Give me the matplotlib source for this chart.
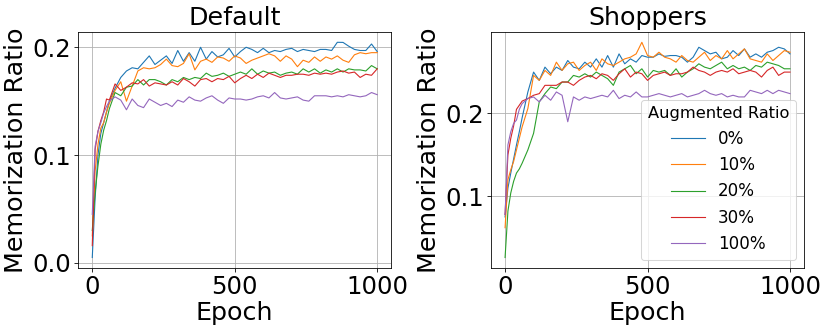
import numpy as np
import matplotlib
matplotlib.use("Agg")
import matplotlib.pyplot as plt
from matplotlib.ticker import MultipleLocator

# epochs (denser at the start of training)
epochs = [0, 10, 20, 30, 40, 50, 60] + list(range(80, 1001, 20))

ratio_labels = ["0%", "10%", "20%", "30%", "100%"]

# Default dataset
default_0 = [0.005, 0.060, 0.100, 0.120, 0.130, 0.140, 0.150, 0.162, 0.172,
             0.178, 0.181, 0.180, 0.186, 0.192, 0.184, 0.188, 0.192, 0.185, 0.197,
             0.187, 0.195, 0.187, 0.200, 0.189, 0.196, 0.191, 0.193, 0.199, 0.191,
             0.196, 0.200, 0.198, 0.195, 0.199, 0.195, 0.197, 0.196, 0.198, 0.199,
             0.196, 0.198, 0.197, 0.196, 0.198, 0.198, 0.197, 0.2046, 0.2045, 0.201,
             0.198, 0.197, 0.197, 0.203, 0.196]
default_10 = [0.025, 0.085, 0.110, 0.125, 0.130, 0.140, 0.148, 0.160, 0.168,
              0.150, 0.164, 0.178, 0.181, 0.180, 0.181, 0.184, 0.189, 0.183, 0.182,
              0.185, 0.194, 0.179, 0.187, 0.189, 0.186, 0.191, 0.190, 0.187, 0.192,
              0.190, 0.185, 0.188, 0.190, 0.192, 0.194, 0.192, 0.187, 0.192, 0.189,
              0.182, 0.188, 0.186, 0.191, 0.187, 0.191, 0.189, 0.192, 0.188, 0.186,
              0.193, 0.195, 0.194, 0.195, 0.195]
default_20 = [0.030, 0.065, 0.090, 0.110, 0.123, 0.132, 0.143, 0.158, 0.155,
              0.163, 0.164, 0.170, 0.165, 0.170, 0.170, 0.168, 0.165, 0.170, 0.168,
              0.172, 0.170, 0.172, 0.171, 0.176, 0.173, 0.174, 0.176, 0.173, 0.175,
              0.177, 0.175, 0.180, 0.175, 0.178, 0.176, 0.177, 0.174, 0.176, 0.177,
              0.175, 0.180, 0.177, 0.180, 0.176, 0.179, 0.177, 0.180, 0.177, 0.180,
              0.179, 0.179, 0.178, 0.183, 0.180]
default_30 = [0.016, 0.105, 0.122, 0.132, 0.140, 0.152, 0.151, 0.166, 0.160,
              0.163, 0.167, 0.166, 0.170, 0.164, 0.167, 0.166, 0.165, 0.168, 0.165,
              0.171, 0.168, 0.164, 0.170, 0.171, 0.168, 0.171, 0.170, 0.173, 0.167,
              0.171, 0.174, 0.171, 0.175, 0.172, 0.176, 0.174, 0.172, 0.174, 0.174,
              0.175, 0.175, 0.174, 0.176, 0.175, 0.176, 0.175, 0.177, 0.178, 0.176,
              0.177, 0.172, 0.175, 0.174, 0.180]
default_100 = [0.045, 0.108, 0.122, 0.130, 0.139, 0.145, 0.150, 0.154, 0.151,
               0.142, 0.152, 0.146, 0.144, 0.152, 0.149, 0.146, 0.148, 0.145, 0.151,
               0.149, 0.154, 0.151, 0.150, 0.153, 0.155, 0.151, 0.148, 0.153, 0.152,
               0.152, 0.151, 0.152, 0.154, 0.155, 0.153, 0.158, 0.153, 0.152, 0.153,
               0.154, 0.151, 0.150, 0.155, 0.155, 0.155, 0.154, 0.155, 0.154, 0.156,
               0.155, 0.154, 0.155, 0.158, 0.156]

# Shoppers dataset
shoppers_0 = [0.075, 0.110, 0.128, 0.145, 0.162, 0.178, 0.195, 0.226, 0.250,
              0.240, 0.256, 0.248, 0.256, 0.252, 0.264, 0.256, 0.254, 0.262, 0.256,
              0.266, 0.256, 0.270, 0.256, 0.272, 0.260, 0.266, 0.262, 0.270, 0.268,
              0.268, 0.272, 0.269, 0.270, 0.270, 0.268, 0.262, 0.268, 0.280, 0.276,
              0.272, 0.274, 0.266, 0.268, 0.276, 0.270, 0.278, 0.268, 0.272, 0.268,
              0.274, 0.276, 0.280, 0.278, 0.272]
shoppers_10 = [0.062, 0.120, 0.132, 0.142, 0.156, 0.170, 0.184, 0.206, 0.246,
               0.240, 0.252, 0.246, 0.262, 0.252, 0.260, 0.262, 0.252, 0.258, 0.262,
               0.252, 0.266, 0.260, 0.258, 0.262, 0.266, 0.268, 0.272, 0.286, 0.270,
               0.268, 0.274, 0.268, 0.266, 0.262, 0.270, 0.264, 0.262, 0.268, 0.274,
               0.264, 0.270, 0.266, 0.276, 0.266, 0.272, 0.278, 0.266, 0.264, 0.262,
               0.272, 0.264, 0.270, 0.276, 0.274]
shoppers_20 = [0.026, 0.082, 0.104, 0.118, 0.128, 0.133, 0.140, 0.156, 0.176,
               0.214, 0.224, 0.232, 0.230, 0.238, 0.238, 0.246, 0.244, 0.248, 0.244,
               0.250, 0.246, 0.242, 0.234, 0.250, 0.254, 0.258, 0.248, 0.254, 0.244,
               0.252, 0.250, 0.252, 0.246, 0.254, 0.244, 0.250, 0.254, 0.260, 0.256,
               0.254, 0.258, 0.262, 0.254, 0.258, 0.254, 0.256, 0.252, 0.258, 0.256,
               0.262, 0.260, 0.258, 0.254, 0.254]
shoppers_30 = [0.078, 0.150, 0.170, 0.185, 0.205, 0.210, 0.215, 0.218, 0.222,
               0.224, 0.234, 0.234, 0.234, 0.238, 0.238, 0.234, 0.240, 0.244, 0.246,
               0.242, 0.248, 0.246, 0.240, 0.248, 0.254, 0.244, 0.250, 0.248, 0.240,
               0.246, 0.248, 0.250, 0.246, 0.248, 0.248, 0.250, 0.256, 0.252, 0.250,
               0.246, 0.250, 0.252, 0.250, 0.254, 0.248, 0.250, 0.252, 0.250, 0.244,
               0.252, 0.256, 0.246, 0.250, 0.250]
shoppers_100 = [0.078, 0.162, 0.178, 0.188, 0.192, 0.205, 0.212, 0.218, 0.220,
                0.214, 0.222, 0.216, 0.226, 0.222, 0.190, 0.220, 0.216, 0.220, 0.218,
                0.220, 0.222, 0.220, 0.228, 0.218, 0.222, 0.220, 0.226, 0.220, 0.220,
                0.222, 0.224, 0.222, 0.220, 0.222, 0.224, 0.220, 0.222, 0.224, 0.228,
                0.224, 0.222, 0.224, 0.220, 0.222, 0.220, 0.220, 0.228, 0.226, 0.224,
                0.228, 0.224, 0.228, 0.226, 0.224]

panels = [
    ("Default", [default_0, default_10, default_20, default_30, default_100]),
    ("Shoppers", [shoppers_0, shoppers_10, shoppers_20, shoppers_30, shoppers_100]),
]

plt.rcParams["font.size"] = 24

fig, axes = plt.subplots(1, 2, figsize=(830 / 73, 332 / 73), dpi=73)
plt.subplots_adjust(left=0.094, right=0.969, bottom=0.192, top=0.905, wspace=0.317)

for ax, (title, series) in zip(axes, panels):
    for values, lab in zip(series, ratio_labels):
        ax.plot(epochs, values, label=lab, lw=1.1)
    ax.set_title(title, fontsize=25)
    ax.set_xlabel("Epoch", fontsize=25, labelpad=2)
    ax.set_ylabel("Memorization Ratio", fontsize=25)
    ax.set_xticks([0, 500, 1000])
    ax.yaxis.set_major_locator(MultipleLocator(0.1))
    ax.grid(True)

axes[1].legend(title="Augmented Ratio", loc="lower right",
               fontsize=16.5, title_fontsize=16)

fig.savefig("out.png", dpi=73)
